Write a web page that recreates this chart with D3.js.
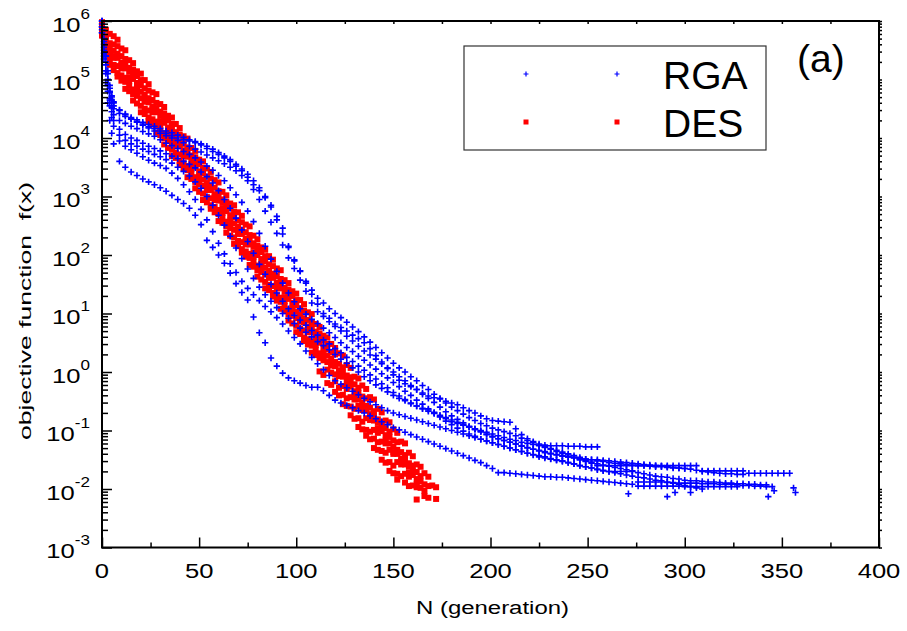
<!DOCTYPE html>
<html>
<head>
<meta charset="utf-8">
<script src="https://cdn.jsdelivr.net/npm/d3@7"></script>
<style>
  body { margin: 0; background: #fff; }
  svg text { font-family: "Liberation Sans", Arial, sans-serif; fill: #000; }
</style>
</head>
<body>
<svg id="chart" width="907" height="631"></svg>
<script>
'use strict';

/* global d3 */

// all values are log10 of the objective function f(x)
var rgaGens = [0,1,2,3,4,5,6,9,12,15,18,21,24,27,30,33,36,39,42,45,48,51,54,57,60,63,66,69,72,75,78,81,84,87,90,93,96,99,
  102,105,108,111,114,117,120,123,126,129,132,135,138,141,144,147,150,153,156,159,162,165,168,171,174,177,180,183,186,189,192,195,198,
  201,204,207,210,213,216,219,222,225,228,231,234,237,240,243,246,249,252,255,258,261,264,267,270,273,276,279,282,285,288,291,294,297,
  300,303,306,309,312,315,318,321,324,327,330,333,336,339,342,345,348,351,354];

var rga1 = [5.95,5.6,5.3,5.0,4.8,4.65,4.55,4.42,4.37,4.32,4.28,4.24,4.19,4.16,4.12,4.08,4.04,4.0,3.97,3.95,3.92,3.88,3.82,3.77,3.72,3.66,3.6,3.52,3.44,3.33,3.2,3.1,2.98,2.85,2.66,2.46,2.15,1.9,
  1.72,1.52,1.33,1.16,1.0,0.92,0.82,0.76,0.7,0.63,0.57,0.5,0.4,0.28,0.17,0.06,-0.05,-0.14,-0.2,-0.25,-0.3,-0.36,-0.41,-0.44,-0.46,-0.5,-0.53,-0.56,-0.61,-0.66,-0.7,-0.75,-0.8,
  -0.83,-0.84,-0.85,-0.86,-0.97,-1.07,-1.14,-1.19,-1.23,-1.25,-1.26,-1.26,-1.26,-1.27,-1.27,-1.27,-1.28,-1.28,-1.28];
var rga2 = [6.0,5.7,5.4,5.1,4.85,4.7,4.6,4.47,4.41,4.35,4.31,4.27,4.23,4.2,4.16,4.12,4.09,4.05,4.01,3.97,3.94,3.9,3.86,3.81,3.75,3.69,3.63,3.55,3.47,3.38,3.27,3.15,3.0,2.82,2.6,2.36,2.13,1.92,
  1.73,1.55,1.4,1.26,1.18,1.08,1.0,0.93,0.85,0.77,0.69,0.6,0.51,0.42,0.33,0.24,0.15,0.07,0.0,-0.08,-0.15,-0.23,-0.3,-0.38,-0.45,-0.53,-0.6,-0.66,-0.72,-0.78,-0.83,-0.88,-0.92,
  -0.96,-0.99,-1.02,-1.05,-1.09,-1.13,-1.17,-1.21,-1.25,-1.28,-1.32,-1.36,-1.39,-1.42,-1.46,-1.5,-1.53,-1.56,-1.6,-1.6,-1.6,-1.6,-1.6,-1.6,-1.6,-1.6,-1.6,-1.6,-1.6,-1.6,-1.6,-1.6,-1.6,-1.6,
  -1.6,-1.6,-1.69,-1.69,-1.69,-1.69,-1.69,-1.69,-1.69,-1.69,-1.73,-1.73,-1.73,-1.73,-1.73,-1.73,-1.73,-1.73];
var rga3 = [5.9,5.55,5.25,5.0,4.78,4.6,4.5,4.3,4.25,4.2,4.16,4.11,4.07,4.03,3.97,3.91,3.87,3.82,3.77,3.72,3.66,3.59,3.52,3.45,3.36,3.27,3.15,3.03,2.9,2.75,2.57,2.37,2.15,1.93,1.72,1.52,1.35,1.2,
  1.08,0.99,0.9,0.83,0.75,0.67,0.59,0.5,0.42,0.35,0.27,0.2,0.12,0.05,-0.03,-0.1,-0.18,-0.25,-0.33,-0.4,-0.48,-0.55,-0.63,-0.7,-0.77,-0.84,-0.9,-0.96,-1.01,-1.06,-1.1,-1.15,-1.18,
  -1.21,-1.24,-1.27,-1.3,-1.33,-1.36,-1.39,-1.42,-1.45,-1.47,-1.49,-1.51,-1.53,-1.55,-1.57,-1.6,-1.62,-1.64,-1.67,-1.69,-1.7,-1.7,-1.7,-1.7,-1.7,-1.88,-1.88,-1.88,-1.88,-1.88,-1.89,-1.89,-1.9,
  -1.9,-1.9,-1.9,-1.91,-1.91,-1.91,-1.92,-1.92,-1.92,-1.93,-1.94,-1.94,-1.95,-1.95,-1.96,-1.96];
var rga4 = [5.9,5.5,5.15,4.9,4.68,4.52,4.4,4.15,4.06,4.0,3.96,3.91,3.86,3.82,3.78,3.73,3.69,3.65,3.6,3.55,3.49,3.42,3.34,3.23,3.1,2.95,2.8,2.63,2.43,2.23,2.03,1.84,1.67,1.5,1.35,1.21,1.08,0.97,
  0.89,0.8,0.71,0.63,0.55,0.48,0.4,0.33,0.25,0.18,0.1,0.03,-0.05,-0.12,-0.2,-0.27,-0.35,-0.41,-0.47,-0.53,-0.58,-0.63,-0.67,-0.71,-0.76,-0.8,-0.85,-0.88,-0.91,-0.94,-0.97,-1.0,-1.03,
  -1.06,-1.09,-1.12,-1.15,-1.17,-1.2,-1.22,-1.24,-1.26,-1.29,-1.31,-1.34,-1.37,-1.4,-1.43,-1.46,-1.49,-1.5,-1.52,-1.53,-1.55,-1.56,-1.57,-1.58,-1.59,-1.6,-1.6,-1.61,-1.62,-1.62,-1.63,-1.64,-1.64,
  -1.65];
var rga5 = [5.85,5.45,5.15,4.9,4.65,4.45,4.3,4.05,3.96,3.9,3.86,3.81,3.77,3.72,3.68,3.63,3.57,3.5,3.43,3.35,3.25,3.14,3.0,2.85,2.68,2.51,2.32,2.12,1.94,1.76,1.6,1.45,1.32,1.21,1.1,1.0,0.92,0.83,
  0.75,0.68,0.6,0.52,0.45,0.38,0.3,0.22,0.15,0.07,0.0,-0.08,-0.15,-0.22,-0.28,-0.34,-0.4,-0.45,-0.49,-0.54,-0.58,-0.62,-0.65,-0.69,-0.74,-0.78,-0.82,-0.86,-0.9,-0.94,-0.98,-1.02,-1.06,
  -1.1,-1.14,-1.17,-1.2,-1.23,-1.27,-1.3,-1.32,-1.34,-1.36,-1.39,-1.41,-1.43,-1.45,-1.47,-1.5,-1.52,-1.54,-1.57,-1.59,-1.61,-1.63,-1.65,-1.67,-1.69,-1.72,-1.74,-1.76,-1.78,-1.79,-1.8,-1.82,-1.83,
  -1.85,-1.86,-1.86,-1.87,-1.88,-1.88,-1.89,-1.9,-1.9,-1.91,-1.91,-1.92,-1.92,-1.93,-1.93];
var rga6 = [5.8,5.4,5.1,4.8,4.55,4.35,4.2,3.95,3.86,3.8,3.74,3.68,3.62,3.57,3.53,3.48,3.4,3.31,3.2,3.08,2.95,2.78,2.6,2.4,2.2,2.02,1.85,1.7,1.55,1.43,1.32,1.22,1.12,1.03,0.93,0.82,0.7,0.59,
  0.48,0.36,0.25,0.14,0.04,-0.06,-0.15,-0.21,-0.27,-0.33,-0.39,-0.45,-0.51,-0.56,-0.61,-0.66,-0.7,-0.73,-0.76,-0.79,-0.82,-0.85,-0.88,-0.91,-0.94,-0.97,-1.0,-1.03,-1.06,-1.09,-1.12,-1.15,-1.18,
  -1.21,-1.24,-1.27,-1.3,-1.33,-1.36,-1.39,-1.41,-1.43,-1.45,-1.48,-1.5,-1.52,-1.55,-1.57,-1.6,-1.62,-1.64,-1.66,-1.68,-1.7,-1.72,-1.74,-1.76,-1.78,-1.8,-1.81,-1.83,-1.85,-1.86,-1.88,-1.9,-1.92,
  -1.94,-1.96,-1.98,-2.0];
var rga7 = [5.8,5.35,4.95,4.6,4.3,4.08,3.9,3.6,3.5,3.42,3.36,3.3,3.25,3.2,3.15,3.09,3.02,2.95,2.88,2.8,2.68,2.52,2.25,2.13,2.0,1.86,1.69,1.51,1.36,1.23,0.94,0.67,0.5,0.24,0.1,-0.02,-0.1,-0.15,
  -0.19,-0.23,-0.26,-0.26,-0.32,-0.4,-0.48,-0.53,-0.57,-0.61,-0.66,-0.7,-0.75,-0.8,-0.85,-0.9,-0.95,-0.99,-1.03,-1.07,-1.11,-1.15,-1.19,-1.23,-1.27,-1.31,-1.35,-1.39,-1.43,-1.47,-1.51,-1.55,-1.6,
  -1.65,-1.72,-1.72,-1.73,-1.74,-1.75,-1.76,-1.77,-1.78,-1.79,-1.79,-1.8,-1.8,-1.81,-1.82,-1.83,-1.84,-1.85,-1.86,-1.87,-1.88,-1.89,-1.9,-1.91,-1.92,-1.95,-1.95,-1.95,-1.95,-1.95,-1.95,-1.95,
  -1.95,-1.96,-1.96,-1.96,-1.96,-1.96,-1.96,-1.96,-1.96,-1.96,-1.96];
var rga8 = [6.0,5.65,5.4,5.15,4.9,4.72,4.62,4.48,4.4,4.33,4.27,4.22,4.17,4.12,4.08,4.04,4.0,3.96,3.92,3.86,3.81,3.76,3.71,3.66,3.61,3.56,3.5,3.44,3.36,3.27,3.12,2.95,2.75,2.56,2.37,2.17,1.95,1.77,
  1.57,1.38,1.18,1.03,0.95,0.86,0.78,0.7,0.61,0.53,0.44,0.36,0.29,0.22,0.14,0.07,0.0,-0.08,-0.15,-0.23,-0.3,-0.38,-0.45,-0.52,-0.6,-0.68,-0.75,-0.81,-0.87,-0.93,-0.98,-1.02,-1.07,
  -1.11,-1.14,-1.17,-1.2,-1.23,-1.26,-1.29,-1.32,-1.35,-1.38,-1.4,-1.42,-1.44,-1.45,-1.46,-1.48,-1.49,-1.5,-1.5,-1.51,-1.52,-1.53,-1.54,-1.55,-1.56,-1.57,-1.58,-1.59,-1.6,-1.61,-1.62,-1.63,-1.64,
  -1.65,-1.66,-1.68,-1.7,-1.71,-1.72,-1.73,-1.74,-1.74,-1.75,-1.75];
// single RGA points lying under the tails: [generation, log10 f]
var rgaStray = [[271,-2.08],[291,-2.13],[295,-2.06],[303,-2.06],[343,-2.13],[346,-2.03],[356,-1.98],[357,-2.06]];

var desGens = [0,2,4,6,8,10,12,14,16,18,20,22,24,26,28,30,32,34,36,38,40,42,44,46,48,50,52,54,56,58,60,62,64,66,68,70,72,74,76,78,80,
  82,84,86,88,90,92,94,96,98,100,102,104,106,108,110,112,114,116,118,120,122,124,126,128,130,132,134,136,138,140,142,144,146,148,150,
  152,154,156,158,160,162,164,166,168,170,172];

var des1 = [5.98,5.85,5.78,5.74,5.68,5.53,5.50,5.33,5.28,5.14,5.10,4.99,4.92,4.78,4.75,4.58,4.53,4.38,4.35,4.24,4.17,4.03,3.99,3.83,3.78,3.63,3.60,3.48,3.42,3.28,3.24,3.08,3.02,2.88,2.85,2.73,
  2.67,2.52,2.49,2.33,2.27,2.13,2.09,1.98,1.92,1.77,1.74,1.57,1.52,1.38,1.34,1.23,1.16,1.02,0.99,0.82,0.77,0.62,0.59,0.48,0.41,0.32,0.28,0.12,0.07,-0.08,-0.11,-0.23,-0.29,-0.43,-0.47,-0.63,
  -0.69,-0.83,-0.86,-0.98,-1.04,-1.19,-1.22,-1.38,-1.44,-1.58,-1.62,-1.73,-1.79,-1.94,-1.97];
var des2 = [5.92,5.74,5.62,5.60,5.57,5.40,5.35,5.20,5.17,5.06,4.99,4.85,4.81,4.65,4.60,4.45,4.42,4.30,4.24,4.10,4.06,3.90,3.84,3.70,3.67,3.55,3.49,3.34,3.31,3.15,3.09,2.95,2.91,2.80,2.74,2.59,
  2.56,2.39,2.34,2.20,2.16,2.05,1.98,1.84,1.81,1.64,1.59,1.44,1.41,1.30,1.23,1.09,1.05,0.89,0.84,0.69,0.66,0.54,0.48,0.34,0.30,0.14,0.08,-0.06,-0.09,-0.21,-0.27,-0.42,-0.45,-0.61,-0.67,-0.81,
  -0.85,-0.96,-1.02,-1.17,-1.20,-1.37,-1.42,-1.56,-1.60,-1.71,-1.78,-1.92,-1.95];
var des3 = [5.85,5.68,5.56,5.49,5.44,5.29,5.26,5.14,5.08,4.94,4.90,4.74,4.68,4.54,4.51,4.39,4.33,4.18,4.15,3.99,3.93,3.79,3.75,3.64,3.58,3.43,3.40,3.23,3.18,3.04,3.00,2.89,2.82,2.68,2.65,2.48,
  2.43,2.28,2.25,2.14,2.07,1.93,1.89,1.73,1.68,1.53,1.50,1.38,1.32,1.18,1.14,0.98,0.92,0.78,0.75,0.63,0.57,0.42,0.39,0.23,0.17,0.03,-0.01,-0.12,-0.18,-0.33,-0.36,-0.53,-0.58,-0.72,-0.76,-0.87,
  -0.94,-1.08,-1.11,-1.28,-1.33,-1.48,-1.51,-1.62,-1.69,-1.83,-1.87,-2.03];
var des4 = [5.9,5.6,5.48,5.40,5.37,5.25,5.19,5.04,5.01,4.85,4.79,4.65,4.61,4.50,4.44,4.29,4.26,4.09,4.04,3.90,3.86,3.75,3.68,3.54,3.51,3.34,3.29,3.14,3.11,3.00,2.93,2.79,2.75,2.59,2.54,2.39,
  2.36,2.24,2.18,2.04,2.00,1.84,1.78,1.64,1.61,1.49,1.43,1.28,1.25,1.09,1.03,0.89,0.85,0.74,0.68,0.53,0.50,0.33,0.28,0.14,0.10,-0.01,-0.08,-0.22,-0.25,-0.42,-0.47,-0.62,-0.65,-0.76,-0.83,-0.97,
  -1.01,-1.17,-1.22,-1.37,-1.40,-1.52,-1.58,-1.72,-1.76,-1.92,-1.98,-2.12,-2.15];
var des5 = [5.82,5.55,5.4,5.37,5.23,5.19,5.03,4.97,4.83,4.80,4.68,4.62,4.47,4.44,4.28,4.22,4.08,4.04,3.93,3.87,3.72,3.69,3.52,3.47,3.33,3.29,3.18,3.11,2.97,2.94,2.77,2.72,2.57,2.54,2.43,2.36,
  2.22,2.18,2.02,1.97,1.82,1.79,1.67,1.61,1.47,1.43,1.27,1.21,1.07,1.04,0.92,0.86,0.71,0.68,0.52,0.46,0.32,0.28,0.17,0.11,-0.04,-0.07,-0.24,-0.29,-0.43,-0.47,-0.58,-0.65,-0.79,-0.82,-0.99,
  -1.04,-1.19,-1.22,-1.33,-1.40,-1.54,-1.58,-1.74,-1.79,-1.94,-1.97];
var des6 = [5.78,5.5,5.32,5.25,5.11,5.07,4.96,4.89,4.75,4.72,4.55,4.50,4.35,4.32,4.21,4.14,4.00,3.96,3.80,3.75,3.60,3.57,3.45,3.39,3.25,3.21,3.05,2.99,2.85,2.82,2.70,2.64,2.49,2.46,2.30,2.24,
  2.10,2.06,1.95,1.89,1.74,1.71,1.54,1.49,1.35,1.31,1.20,1.13,0.99,0.96,0.79,0.74,0.59,0.56,0.45,0.38,0.24,0.20,0.04,-0.01,-0.16,-0.27,-0.39,-0.45,-0.59,-0.63,-0.79,-0.85,-0.99,-1.02,-1.14,
  -1.20,-1.35,-1.38,-1.54,-1.60,-1.74,-1.78,-1.89,-1.95];
var des7 = [5.75,5.45,5.25,5.16,5.05,4.98,4.84,4.80,4.64,4.59,4.44,4.41,4.29,4.23,4.09,4.05,3.89,3.83,3.69,3.66,3.54,3.48,3.33,3.30,3.14,3.08,2.94,2.90,2.79,2.73,2.58,2.55,2.38,2.33,2.19,2.15,
  2.04,1.97,1.83,1.80,1.63,1.58,1.43,1.40,1.29,1.22,1.08,1.04,0.88,0.83,0.68,0.65,0.53,0.47,0.33,0.29,0.01,-0.05,-0.19,-0.22,-0.34,-0.40,-0.55,-0.58,-0.74,-0.80,-0.94,-0.98,-1.09,-1.15,-1.30,
  -1.33,-1.50,-1.55,-1.69,-1.73,-1.84];
var desStray = [[162,-2.18],[172,-2.17]];

var xTicks = [0, 50, 100, 150, 200, 250, 300, 350, 400];
var xMinorTicks = [25, 75, 125, 175, 225, 275, 325, 375];
var yExponents = [-3, -2, -1, 0, 1, 2, 3, 4, 5, 6];
var legendItems = [
  { label: 'RGA', kind: 'cross', color: '#0000ff' },
  { label: 'DES', kind: 'square', color: '#ff0000' }
];

var svg = d3.select('#chart');
var x = d3.scaleLinear().domain([0, 400]).range([102, 879]);
var y = d3.scaleLog().domain([1e-3, 1e6]).range([547.5, 21]);
var pow10 = function(v) { return Math.pow(10, v); };
var crossPath = 'M-3.2,0H3.2M0,-3.2V3.2';

// DES squares go underneath, RGA crosses are drawn over them
var desLayer = svg.append('g');
var desPoints = [];
[des1, des2, des3, des4, des5, des6, des7].forEach(function(run) {
  run.forEach(function(v, i) { desPoints.push([desGens[i], v]); });
});
desPoints = desPoints.concat(desStray);
desLayer.selectAll(null).data(desPoints).join('rect')
  .attr('x', function(d) { return x(d[0]) - 3; })
  .attr('y', function(d) { return y(pow10(d[1])) - 3; })
  .attr('width', 6)
  .attr('height', 6)
  .attr('fill', '#ff0000');

var rgaLayer = svg.append('g')
  .attr('fill', 'none')
  .attr('stroke', '#0000ff')
  .attr('stroke-width', 1.6);
var rgaPoints = [];
[rga1, rga2, rga3, rga4, rga5, rga6, rga7, rga8].forEach(function(run) {
  run.forEach(function(v, i) { rgaPoints.push([rgaGens[i], v]); });
});
rgaPoints = rgaPoints.concat(rgaStray);
rgaLayer.selectAll(null).data(rgaPoints).join('path')
  .attr('d', crossPath)
  .attr('transform', function(d) { return 'translate(' + x(d[0]) + ',' + y(pow10(d[1])) + ')'; });

// axes: ticks point into the plot
var yMajor = yExponents.map(pow10);
var yMinor = y.ticks().filter(function(t) {
  return !yMajor.some(function(m) { return Math.abs(m - t) / m < 1e-6; });
});
var noLabel = function() { return ''; };
var cleanAxis = function(g) {
  g.select('.domain').remove();
  g.selectAll('.tick line').attr('stroke', '#000').attr('stroke-width', 1.5);
};

svg.append('g').attr('transform', 'translate(102,0)')
  .call(d3.axisLeft(y).tickValues(yMajor).tickSize(-10).tickFormat(noLabel)).call(cleanAxis);
svg.append('g').attr('transform', 'translate(102,0)')
  .call(d3.axisLeft(y).tickValues(yMinor).tickSize(-6).tickFormat(noLabel)).call(cleanAxis);
svg.append('g').attr('transform', 'translate(879,0)')
  .call(d3.axisRight(y).tickValues(yMajor.concat(yMinor)).tickSize(3).tickFormat(noLabel)).call(cleanAxis);
svg.append('g').attr('transform', 'translate(0,547.5)')
  .call(d3.axisBottom(x).tickValues(xTicks).tickSize(-10).tickFormat(noLabel)).call(cleanAxis);
svg.append('g').attr('transform', 'translate(0,547.5)')
  .call(d3.axisBottom(x).tickValues(xMinorTicks).tickSize(-5).tickFormat(noLabel)).call(cleanAxis);
svg.append('g').attr('transform', 'translate(0,21)')
  .call(d3.axisTop(x).tickValues(xTicks.concat(xMinorTicks)).tickSize(-3).tickFormat(noLabel)).call(cleanAxis);

svg.append('rect')
  .attr('x', 102).attr('y', 21)
  .attr('width', 777).attr('height', 526.5)
  .attr('fill', 'none').attr('stroke', '#000').attr('stroke-width', 2);

// tick labels (the source font is drawn a little wide)
var yLab = svg.append('g').selectAll(null).data(yExponents).join('g')
  .attr('transform', function(e) { return 'translate(90,' + (y(pow10(e)) + 10.5) + ') scale(1.22,1)'; })
  .append('text')
  .attr('text-anchor', 'end')
  .attr('font-size', 21);
yLab.append('tspan').text('10');
yLab.append('tspan').attr('dy', -13).attr('font-size', 14).text(function(e) { return e; });

svg.append('g').selectAll(null).data(xTicks).join('text')
  .attr('transform', function(t) { return 'translate(' + x(t) + ',578) scale(1.22,1)'; })
  .attr('text-anchor', 'middle')
  .attr('font-size', 21)
  .text(function(t) { return t; });

// axis titles
svg.append('text')
  .attr('x', 416).attr('y', 614)
  .attr('font-size', 18)
  .attr('textLength', 153).attr('lengthAdjust', 'spacingAndGlyphs')
  .text('N (generation)');
svg.append('text')
  .attr('transform', 'translate(31,440) rotate(-90)')
  .attr('font-size', 17)
  .attr('textLength', 258).attr('lengthAdjust', 'spacingAndGlyphs')
  .attr('xml:space', 'preserve')
  .text('objective function  f(x)');

// legend
var legend = svg.append('g');
legend.append('rect')
  .attr('x', 464).attr('y', 46).attr('width', 302).attr('height', 104)
  .attr('fill', '#fff').attr('stroke', '#333').attr('stroke-width', 1.2);
legendItems.forEach(function(item, i) {
  var ly = 74 + i * 48;
  [526, 617].forEach(function(lx) {
    if (item.kind === 'cross') {
      legend.append('path').attr('d', 'M-2.5,0H2.5M0,-2.5V2.5')
        .attr('transform', 'translate(' + lx + ',' + ly + ')')
        .attr('stroke', item.color).attr('stroke-width', 1.2);
    } else {
      legend.append('rect').attr('x', lx - 2.5).attr('y', ly - 2.5)
        .attr('width', 5).attr('height', 5).attr('fill', item.color);
    }
  });
  legend.append('text')
    .attr('x', 663).attr('y', ly + 14.5)
    .attr('font-size', 39)
    .text(item.label);
});

svg.append('text')
  .attr('x', 797).attr('y', 72)
  .attr('font-size', 39)
  .text('(a)');
</script>
</body>
</html>
